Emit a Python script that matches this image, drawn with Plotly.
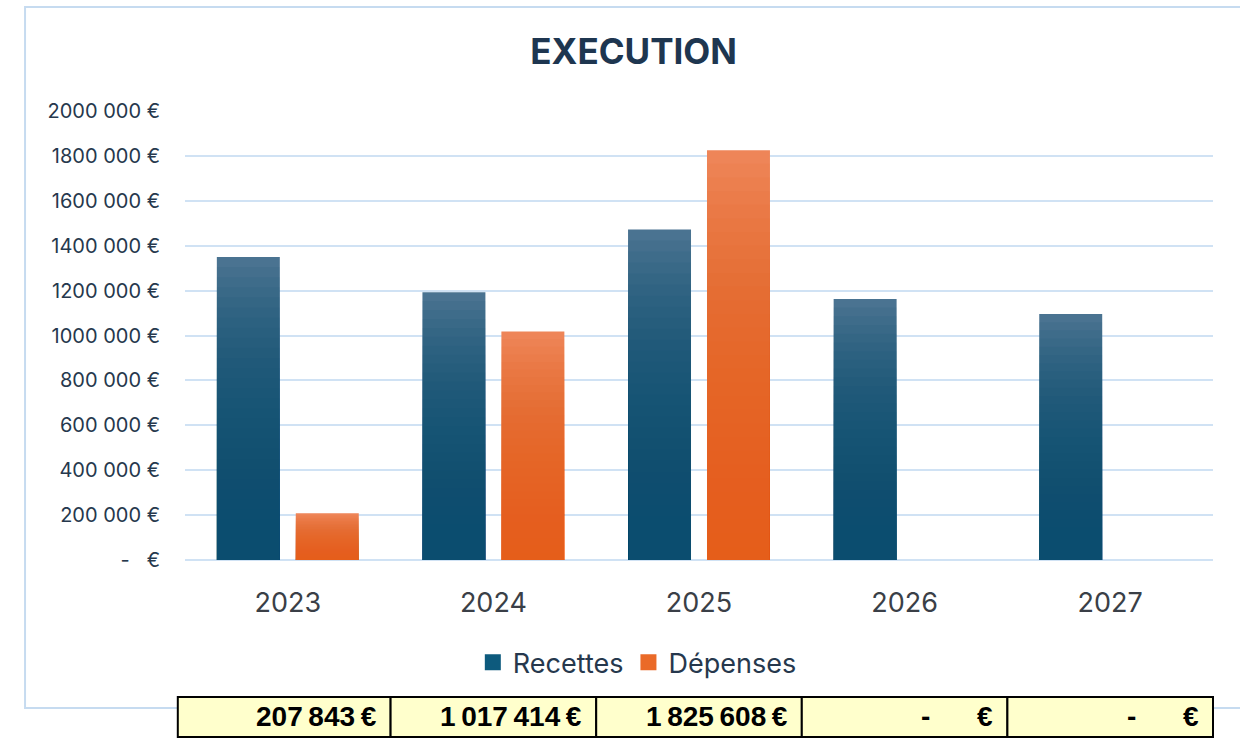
import plotly.graph_objects as go

# ---- data ----
years = ["2023", "2024", "2025", "2026", "2027"]
recettes = [1350000, 1193000, 1472000, 1163000, 1096000]
depenses = [207843, 1017414, 1825608, 0, 0]
y_ticks = [0, 200000, 400000, 600000, 800000, 1000000, 1200000,
           1400000, 1600000, 1800000, 2000000]
series_names = ["Recettes", "Dépenses"]

NB = "\u00a0"
TH = "\u2009"


def tick_label(v):
    if v == 0:
        return "-" + NB * 3 + "€"
    return f"{v // 1000} {v % 1000:03d} €"


def table_label(v):
    if v == 0:
        return "-" + NB * 6 + "€"
    return f"{v:,}".replace(",", TH) + TH + "€"


colors = {
    "Recettes": ("#4a7391", (8, 82, 116), 0.09, "#0d5a7d"),
    "Dépenses": ("#ee8558", (230, 94, 26), 0.075, "#ea6a28"),
}

fig = go.Figure()
N_LAYERS = 30
for name, vals in zip(series_names, [recettes, depenses]):
    top_c, rgb, alpha, legend_c = colors[name]
    layer_c = f"rgba({rgb[0]},{rgb[1]},{rgb[2]},{alpha})"
    fig.add_trace(go.Bar(x=years, y=vals, name=name, offsetgroup=name,
                         marker=dict(color=top_c, line=dict(width=0)),
                         showlegend=False, hoverinfo="x+y"))
    # gradient emulation: translucent layers, darker toward the base
    for i in range(1, N_LAYERS):
        frac = i / N_LAYERS
        fig.add_trace(go.Bar(x=years, y=[v * frac for v in vals],
                             offsetgroup=name,
                             marker=dict(color=layer_c, line=dict(width=0)),
                             showlegend=False, hoverinfo="skip"))
    fig.add_trace(go.Scatter(x=[None], y=[None], mode="markers", name=name,
                             marker=dict(symbol="square", size=16,
                                         color=legend_c)))

FONT = "Inter, Open Sans, sans-serif"

fig.update_layout(
    width=1240, height=739,
    margin=dict(l=185, r=27, t=111, b=179),
    paper_bgcolor="white", plot_bgcolor="white",
    barmode="group", bargap=0.232, bargroupgap=0.2025,
    font=dict(family=FONT, color="#26384d"),
    title=dict(text="<b>EXECUTION</b>", x=0.511, xanchor="center",
               y=0.9296, yanchor="middle",
               font=dict(family=FONT, size=35, color="#1e3650")),
    showlegend=True,
    legend=dict(orientation="h", x=0.4400, xanchor="center",
                y=-0.229, yanchor="middle",
                font=dict(family=FONT, size=27, color="#26384d"),
                itemwidth=30, tracegroupgap=0, traceorder="normal"),
    xaxis=dict(type="category", showgrid=False, showline=False,
               ticks="", ticklabelstandoff=24,
               tickfont=dict(family=FONT, size=27, color="#3a3f47")),
    yaxis=dict(range=[0, 2000000], tickvals=y_ticks,
               ticktext=[tick_label(v) for v in y_ticks],
               showgrid=True, gridcolor="#d0e2f4", gridwidth=2,
               zeroline=True, zerolinecolor="#d0e2f4", zerolinewidth=2,
               showline=False, ticks="", ticklabelstandoff=24,
               tickfont=dict(family=FONT, size=20, color="#26384d")),
)

shapes = []
# chart-area border
shapes.append(dict(type="rect", xref="paper", yref="paper",
                   x0=-0.1556, x1=1.05, y0=-0.3296, y1=1.2316,
                   line=dict(color="#c6dbf0", width=2),
                   fillcolor="rgba(0,0,0,0)", layer="below"))
annotations = []
n = len(years)
for i, v in enumerate(depenses):
    x0 = i / n if i > 0 else -0.007
    x1 = (i + 1) / n
    shapes.append(dict(type="rect", xref="paper", yref="paper",
                       x0=x0, x1=x1, y0=-0.394, y1=-0.305,
                       line=dict(color="black", width=2),
                       fillcolor="#ffffcc", layer="above"))
    annotations.append(dict(xref="paper", yref="paper",
                            x=x1 - 12 / 1028, y=-0.3495,
                            xanchor="right", yanchor="middle",
                            text="<b>" + table_label(v) + "</b>",
                            showarrow=False,
                            font=dict(family="Liberation Sans, Arial, sans-serif",
                                      size=28, color="black")))
fig.update_layout(shapes=shapes, annotations=annotations)

fig.write_html(
    "out.html",
    config={"displayModeBar": False},
    post_script="document.body.style.margin='0px';"
                "document.documentElement.style.overflow='hidden';",
)
